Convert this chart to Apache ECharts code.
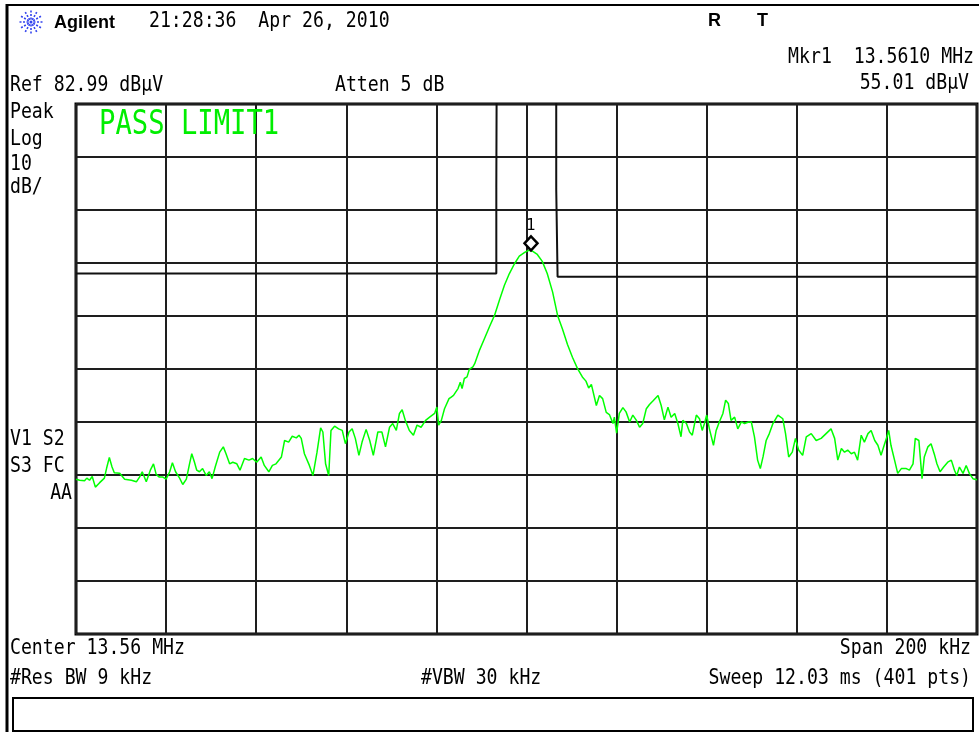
<!DOCTYPE html>
<html>
<head>
<meta charset="utf-8">
<script src="https://cdn.jsdelivr.net/npm/echarts@6/dist/echarts.min.js"></script>
<style>
html,body{margin:0;padding:0;background:#fff;}
#chart{width:979px;height:732px;}
</style>
</head>
<body>
<div id="chart"></div>
<script>
// ---- data (frequency in kHz, level in dBµV) ----
const traceFreqs = [13460.0,13460.8,13461.9,13462.4,13463.0,13463.6,13464.3,13465.2,13466.3,13466.8,13467.4,13468.0,13468.5,13469.7,13470.8,13472.3,13473.4,13474.1,13474.7,13475.6,13476.5,13477.2,13477.8,13478.5,13479.3,13480.0,13480.8,13481.4,13482.1,13483.0,13483.7,13484.5,13485.2,13485.7,13486.3,13486.8,13487.4,13488.1,13488.9,13489.6,13490.2,13490.9,13491.9,13492.7,13493.3,13494.1,13494.8,13495.7,13496.4,13497.4,13498.4,13499.2,13500.1,13501.1,13501.8,13502.8,13503.6,13504.4,13505.6,13506.3,13507.2,13508.0,13508.9,13509.5,13510.0,13510.7,13511.8,13512.6,13513.5,13514.3,13514.8,13515.4,13516.1,13516.6,13517.4,13518.3,13519.1,13519.8,13520.6,13521.3,13522.0,13522.8,13523.5,13524.4,13525.2,13526.0,13527.0,13527.9,13528.7,13529.6,13530.3,13531.1,13531.8,13532.4,13533.1,13534.0,13534.9,13535.7,13536.6,13537.6,13538.5,13539.6,13540.1,13540.5,13541.1,13541.8,13542.8,13543.3,13543.8,13544.2,13544.8,13545.3,13545.7,13546.2,13546.8,13547.3,13548.1,13548.5,13549.6,13550.7,13551.8,13552.9,13554.0,13555.1,13556.2,13557.3,13558.4,13559.6,13560.5,13561.4,13562.4,13563.5,13564.6,13565.8,13566.9,13568.0,13569.1,13570.2,13571.3,13572.4,13573.2,13573.8,13574.4,13575.5,13576.2,13576.9,13577.7,13578.4,13579.2,13579.5,13580.0,13580.6,13581.4,13582.1,13582.9,13583.6,13584.4,13585.1,13585.8,13586.6,13587.3,13588.0,13589.2,13589.9,13590.6,13591.4,13592.1,13592.9,13593.6,13594.3,13594.7,13595.5,13596.2,13596.8,13597.7,13598.4,13599.0,13599.5,13600.0,13600.6,13601.5,13602.1,13602.8,13603.6,13604.2,13604.8,13605.4,13606.2,13606.9,13607.7,13608.4,13609.3,13609.9,13610.6,13611.3,13611.9,13612.5,13613.2,13613.9,13614.7,13615.8,13616.9,13617.5,13618.2,13619.0,13619.7,13620.4,13621.3,13622.1,13623.2,13624.3,13625.4,13626.5,13627.6,13628.4,13629.1,13629.9,13630.6,13631.3,13632.1,13632.8,13633.5,13634.3,13635.0,13635.8,13636.5,13637.3,13638.0,13638.7,13639.5,13640.0,13640.4,13640.9,13641.7,13642.4,13643.2,13644.3,13645.0,13645.8,13646.3,13647.1,13647.8,13648.3,13649.1,13649.8,13650.6,13651.1,13651.8,13652.6,13653.5,13654.3,13655.0,13655.5,13656.1,13656.9,13657.6,13658.3,13659.1,13660.0];
const traceLevels = [12.2,12.0,11.9,12.4,12.0,12.7,10.7,11.5,12.4,14.3,16.3,14.5,13.4,13.3,12.2,12.0,11.7,12.6,13.6,11.7,13.9,15.1,13.1,12.6,12.6,12.2,13.6,15.3,13.6,12.4,11.2,12.2,15.1,17.0,15.4,13.9,13.6,14.2,12.9,13.6,12.3,14.5,17.3,18.3,17.0,15.1,15.4,15.1,13.9,16.1,15.8,16.1,15.4,16.4,14.8,13.6,14.8,15.1,16.4,19.5,19.2,20.3,20.0,20.5,19.9,17.0,14.8,12.9,17.3,21.9,21.1,15.1,12.9,21.4,22.2,21.7,21.4,18.9,21.1,21.7,19.9,16.7,19.2,21.6,19.5,16.7,21.1,21.1,18.3,22.0,22.7,21.4,24.6,25.3,23.3,21.4,20.5,22.4,22.0,23.3,23.9,24.6,25.8,22.4,23.3,25.5,27.4,27.7,28.0,28.0,29.3,30.5,29.3,31.2,31.5,32.9,33.4,34.0,36.6,38.8,41.0,43.1,46.0,48.8,51.0,52.8,54.3,55.0,55.4,55.2,54.6,53.3,51.0,47.5,43.1,40.5,37.6,35.2,33.1,31.5,30.7,29.4,30.1,26.1,28.0,27.4,24.8,24.4,22.7,23.9,20.9,24.6,25.7,24.9,23.0,24.3,23.3,22.0,22.7,25.5,26.3,26.9,28.0,26.1,23.4,25.8,23.9,24.6,22.7,20.2,23.3,22.7,21.1,20.5,24.3,23.6,21.4,22.7,24.3,21.7,18.6,21.4,23.0,24.6,27.1,26.5,23.3,23.9,21.7,23.0,22.7,23.0,23.0,20.2,15.8,14.2,16.4,19.5,20.8,22.7,24.3,23.6,20.8,16.4,17.3,19.9,17.7,16.7,20.2,20.8,19.5,19.9,20.8,21.7,19.9,15.8,18.0,17.3,17.7,17.0,17.3,15.8,20.5,19.2,20.8,21.4,19.5,18.6,16.7,18.9,20.2,21.4,18.6,15.8,13.3,14.2,14.2,13.9,15.1,19.9,19.5,12.3,16.4,18.3,18.9,16.7,15.1,13.6,14.5,15.4,15.8,13.9,12.9,14.5,13.3,14.8,13.3,12.3,12.1];

const limitFreqs  = [13460.0,13553.3,13553.3,13553.5,13553.5,13566.6,13566.6,13566.9,13566.9,13660.0];
const limitLevels = [51.0,   51.0,   67.3,   67.3,   120.0,  120.0,  66.9,   66.9,   50.4,   50.4];

const markerFreq = 13561.0;   // Mkr1 13.5610 MHz
const markerLevel = 55.01;    // 55.01 dBµV

const refLevel = 82.99;       // Ref 82.99 dBµV
const dbPerDiv = 10;
const numDivs = 10;
const freqStart = 13460, freqStop = 13660, freqStep = 20;

// ---- build ----
const traceData = traceFreqs.map((f, i) => [f, traceLevels[i]]);
const limitData = limitFreqs.map((f, i) => [f, limitLevels[i]]);

const MONO = '"DejaVu Sans Mono", "Liberation Mono", monospace';
function txt(text, x, y, opts) {
  opts = opts || {};
  return {
    type: 'text', z: 100, x: x, y: y,
    scaleX: opts.scaleX !== undefined ? opts.scaleX : 0.865,
    style: {
      text: text, x: 0, y: 0,
      font: (opts.font || ('21px ' + MONO)),
      fill: opts.fill || '#000',
      textAlign: opts.align || 'left',
      textVerticalAlign: 'middle'
    }
  };
}
const BOLD = 'bold 18px "Liberation Sans", Arial, sans-serif';

const graphics = [];
// frame
graphics.push({type:'line', z:100, shape:{x1:7, y1:5, x2:979, y2:5}, style:{stroke:'#000', lineWidth:2}});
graphics.push({type:'line', z:100, shape:{x1:7, y1:4, x2:7, y2:732}, style:{stroke:'#000', lineWidth:3}});
graphics.push({type:'rect', z:100, shape:{x:13, y:698, width:960, height:33}, style:{fill:'none', stroke:'#000', lineWidth:2}});
// Agilent logo (spark spokes)
for (let k = 0; k < 12; k++) {
  const a = k * Math.PI / 6;
  graphics.push({type:'line', z:100, shape:{x1:31 + 2.5*Math.cos(a), y1:22 + 2.5*Math.sin(a), x2:31 + 11.5*Math.cos(a), y2:22 + 11.5*Math.sin(a)},
    style:{stroke:'#3344ee', lineWidth:1.6, lineDash:[2,1.5]}});
}
graphics.push({type:'circle', z:100, shape:{cx:31, cy:22, r:1.5}, style:{fill:'#3344ee'}});
graphics.push(txt('Agilent', 54, 23, {font: BOLD, scaleX: 1}));
graphics.push(txt('21:28:36  Apr 26, 2010', 149, 22));
graphics.push(txt('R', 708, 21, {font: BOLD, scaleX: 1}));
graphics.push(txt('T', 757, 21, {font: BOLD, scaleX: 1}));
graphics.push(txt('Mkr1  13.5610 MHz', 974, 58, {align:'right'}));
graphics.push(txt('55.01 dBµV', 969, 84, {align:'right'}));
graphics.push(txt('Ref 82.99 dBµV', 10, 86));
graphics.push(txt('Atten 5 dB', 335, 86));
graphics.push(txt('Peak', 10, 113));
graphics.push(txt('Log', 10, 140));
graphics.push(txt('10', 10, 165));
graphics.push(txt('dB/', 10, 188));
graphics.push(txt('V1 S2', 10, 440));
graphics.push(txt('S3 FC', 10, 467));
graphics.push(txt('AA', 72, 494, {align:'right'}));
graphics.push(txt('PASS LIMIT1', 99, 125, {font:'34px ' + MONO, fill:'#00ee00', scaleX: 0.8}));
graphics.push(txt('Center 13.56 MHz', 10, 649));
graphics.push(txt('Span 200 kHz', 971, 649, {align:'right'}));
graphics.push(txt('#Res BW 9 kHz', 10, 679));
graphics.push(txt('#VBW 30 kHz', 421, 679));
graphics.push(txt('Sweep 12.03 ms (401 pts)', 971, 679, {align:'right'}));

const option = {
  animation: false,
  backgroundColor: '#fff',
  grid: {left: 76, top: 104, width: 901, height: 530, show: true, borderColor: '#000', borderWidth: 3, backgroundColor: '#fff'},
  xAxis: {
    type: 'value', min: freqStart, max: freqStop, interval: freqStep,
    axisLine: {show: false}, axisTick: {show: false}, axisLabel: {show: false},
    splitLine: {show: true, lineStyle: {color: '#1e1e1e', width: 2}}
  },
  yAxis: [
    {type: 'value', min: refLevel - dbPerDiv * numDivs, max: refLevel,
     axisLine: {show: false}, axisTick: {show: false}, axisLabel: {show: false}, splitLine: {show: false}},
    {type: 'value', min: 0, max: numDivs, interval: 1, position: 'right',
     axisLine: {show: false}, axisTick: {show: false}, axisLabel: {show: false},
     splitLine: {show: true, lineStyle: {color: '#1e1e1e', width: 2}}}
  ],
  series: [
    {type: 'line', name: 'Limit1', data: limitData, yAxisIndex: 0, symbol: 'none', clip: true,
     lineStyle: {color: '#111', width: 2}, z: 3},
    {type: 'line', name: 'Trace', data: traceData, yAxisIndex: 0, symbol: 'none', clip: true,
     lineStyle: {color: '#00ff00', width: 1.5}, z: 4},
    {type: 'scatter', name: 'Mkr1', data: [[markerFreq, markerLevel]], yAxisIndex: 0,
     symbol: 'diamond', symbolSize: [13, 14], symbolOffset: [0, -9],
     itemStyle: {color: '#fff', borderColor: '#000', borderWidth: 2.5, opacity: 1},
     label: {show: true, position: 'top', distance: 1, formatter: '1', color: '#000',
             fontFamily: 'DejaVu Sans', fontSize: 15},
     z: 5}
  ],
  graphic: graphics
};

const chart = echarts.init(document.getElementById('chart'), null, {renderer: 'canvas'});
chart.setOption(option);
</script>
</body>
</html>
